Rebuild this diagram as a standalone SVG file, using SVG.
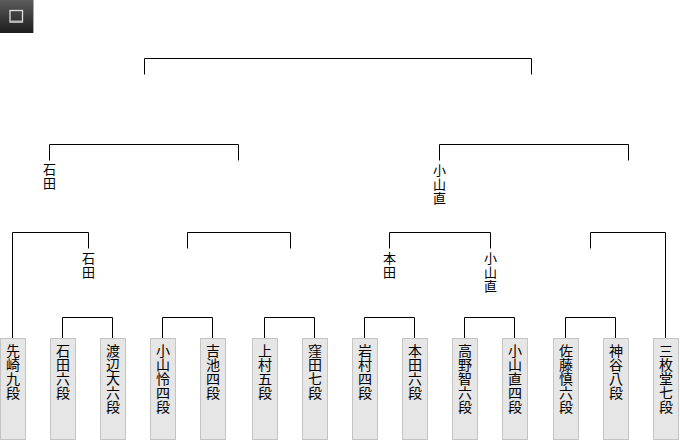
<svg xmlns="http://www.w3.org/2000/svg" width="680" height="440" viewBox="0 0 680 440">
<defs>
<linearGradient id="g" x1="0" y1="0" x2="0" y2="1">
<stop offset="0" stop-color="#5c5c5c"/>
<stop offset="1" stop-color="#1c1c1c"/>
</linearGradient>
</defs>
<style>
.ln{fill:none;stroke:#000;stroke-width:1}
.box{fill:#e6e6e6;stroke:#c4c4c4;stroke-width:1}
.nm{font-family:"Noto Sans CJK JP","Noto Sans CJK SC",sans-serif;font-size:14px;fill:#000;writing-mode:vertical-rl;text-orientation:upright}
.lb{font-family:"Noto Sans CJK JP","Noto Sans CJK SC",sans-serif;font-size:13px;fill:#000;writing-mode:vertical-rl;text-orientation:upright;letter-spacing:1px}
</style>
<rect width="680" height="440" fill="#fff"/>
<g id="icon">
<rect x="0" y="0" width="33" height="33" fill="url(#g)"/>
<line x1="33.5" y1="0" x2="33.5" y2="33" stroke="#aaa" stroke-width="1"/>
<rect x="10" y="10.5" width="12.5" height="11.5" fill="none" stroke="#e0e0e0" stroke-width="1.3"/>
<line x1="10" y1="21.5" x2="22.5" y2="21.5" stroke="#bbb" stroke-width="2"/>
</g>
<g id="connectors">
<path class="ln" d="M144.5 74.5V58.5H531.5V74.5"/>
<path class="ln" d="M49.5 160.5V144.5H238.5V160.5"/>
<path class="ln" d="M439.5 160.5V144.5H628.5V160.5"/>
<path class="ln" d="M12.5 338V232.5H88.5V248.5"/>
<path class="ln" d="M187.5 248.5V232.5H290.5V248.5"/>
<path class="ln" d="M389.5 248.5V232.5H490.5V248.5"/>
<path class="ln" d="M590.5 248.5V232.5H665.5V338"/>
<path class="ln" d="M62.5 338V317.5H112.5V338"/>
<path class="ln" d="M162.5 338V317.5H212.5V338"/>
<path class="ln" d="M264.5 338V317.5H314.5V338"/>
<path class="ln" d="M364.5 338V317.5H414.5V338"/>
<path class="ln" d="M464.5 338V317.5H514.5V338"/>
<path class="ln" d="M565.5 338V317.5H615.5V338"/>
</g>
<g id="label-final-left"><text class="lb" x="49.5" y="163">石田</text></g>
<g id="label-final-right"><text class="lb" x="439.5" y="164">小山直</text></g>
<g id="label-r2-1"><text class="lb" x="88.5" y="252">石田</text></g>
<g id="label-r2-3"><text class="lb" x="389.5" y="251.5">本田</text></g>
<g id="label-r2-4"><text class="lb" x="490.5" y="252">小山直</text></g>
<g id="p1"><rect class="box" x="0.5" y="338.5" width="25" height="101"/><text class="nm" x="13" y="344">先崎九段</text></g>
<g id="p2"><rect class="box" x="50.5" y="338.5" width="25" height="101"/><text class="nm" x="63" y="344">石田六段</text></g>
<g id="p3"><rect class="box" x="100.5" y="338.5" width="25" height="101"/><text class="nm" x="113" y="344">渡辺大六段</text></g>
<g id="p4"><rect class="box" x="150.5" y="338.5" width="25" height="101"/><text class="nm" x="163" y="344">小山怜四段</text></g>
<g id="p5"><rect class="box" x="200.5" y="338.5" width="25" height="101"/><text class="nm" x="213" y="344">吉池四段</text></g>
<g id="p6"><rect class="box" x="252.5" y="338.5" width="25" height="101"/><text class="nm" x="265" y="344">上村五段</text></g>
<g id="p7"><rect class="box" x="302.5" y="338.5" width="25" height="101"/><text class="nm" x="315" y="344">窪田七段</text></g>
<g id="p8"><rect class="box" x="352.5" y="338.5" width="25" height="101"/><text class="nm" x="365" y="344">岩村四段</text></g>
<g id="p9"><rect class="box" x="402.5" y="338.5" width="25" height="101"/><text class="nm" x="415" y="344">本田六段</text></g>
<g id="p10"><rect class="box" x="452.5" y="338.5" width="25" height="101"/><text class="nm" x="465" y="344">高野智六段</text></g>
<g id="p11"><rect class="box" x="502.5" y="338.5" width="25" height="101"/><text class="nm" x="515" y="344">小山直四段</text></g>
<g id="p12"><rect class="box" x="553.5" y="338.5" width="25" height="101"/><text class="nm" x="566" y="344">佐藤慎六段</text></g>
<g id="p13"><rect class="box" x="603.5" y="338.5" width="25" height="101"/><text class="nm" x="616" y="344">神谷八段</text></g>
<g id="p14"><rect class="box" x="653.5" y="338.5" width="25" height="101"/><text class="nm" x="666" y="344">三枚堂七段</text></g>
</svg>
